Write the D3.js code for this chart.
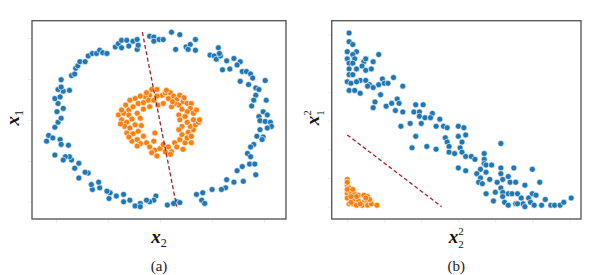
<!DOCTYPE html>
<html><head><meta charset="utf-8">
<script src="https://cdn.jsdelivr.net/npm/d3@7"></script>
<style>body{margin:0;background:#fff}svg{display:block}</style>
</head><body>
<script>
// ---- Panel (a): original space (x2, x1) ----
const blueA = [[-1.09,-0.26],[-1.07,-0.19],[-1.01,-0.09],[-1.03,-0.22],[-0.96,-0.24],[-0.95,-0.30],[-0.88,-0.31],[-0.98,-0.03],[-0.95,0.02],[-0.99,0.10],[-0.93,0.14],[-0.98,0.20],[-1.01,0.26],[-0.96,0.28],[-0.93,0.35],[-0.87,0.36],[-0.98,0.37],[-0.95,0.40],[-0.95,0.49],[-0.85,0.54],[-0.82,0.56],[-0.81,0.63],[-0.79,0.66],[-0.77,0.71],[-0.72,0.71],[-0.69,0.78],[-0.65,0.81],[-0.61,0.81],[-0.58,0.85],[-0.55,0.82],[-0.51,0.81],[-0.43,0.89],[-0.40,0.93],[-0.37,0.97],[-0.32,0.97],[-0.26,0.96],[-0.22,0.98],[-0.37,0.88],[-0.30,0.90],[-0.22,0.86],[-0.21,0.91],
[-0.10,1.02],[-0.06,1.01],[-0.01,0.98],[0.03,0.98],[0.11,1.07],[0.19,1.04],[-0.06,0.96],[0.15,0.86],[0.25,0.89],[0.29,0.92],[0.34,0.98],[0.27,0.86],[0.34,0.85],[0.56,0.88],[0.48,0.79],[0.52,0.78],[0.54,0.74],[0.58,0.78],[0.57,0.81],[0.64,0.72],[0.60,0.61],[0.67,0.62],[0.71,0.75],[0.77,0.71],[0.74,0.67],[0.79,0.59],[0.83,0.59],[0.87,0.56],[0.77,0.47],[0.85,0.43],[0.89,0.51],[1.01,0.48],[0.92,0.39],[0.95,0.37],[0.92,0.30],[0.90,0.24],[1.02,0.24],[0.88,0.17],[0.99,0.10],[1.03,0.06],[0.95,0.04],[0.96,-0.01],[1.01,-0.02],[1.06,-0.03],[1.07,-0.08],[1.03,-0.10],[0.96,-0.12],[0.93,-0.20],[0.99,-0.21],[0.90,-0.30],[0.87,-0.33],[0.98,-0.24],[0.84,-0.41],[0.87,-0.45],[0.86,-0.54],[0.91,-0.54],[0.79,-0.57],[0.92,-0.67],[0.74,-0.62],[0.80,-0.75],[0.71,-0.76],[0.64,-0.73],[0.63,-0.83],[0.59,-0.85],[0.50,-0.85],[0.41,-0.89],[0.35,-0.91],[0.40,-0.98],[0.43,-1.02],
[0.16,-1.00],[0.19,-1.01],[0.13,-1.02],[0.07,-1.04],[-0.04,-0.93],[-0.06,-0.98],[-0.10,-1.00],[-0.13,-0.98],[-0.19,-1.02],[-0.24,-1.05],[-0.19,-1.06],[-0.29,-0.98],[-0.35,-1.00],[-0.35,-0.91],[-0.42,-0.93],[-0.49,-0.96],[-0.48,-0.89],[-0.51,-0.87],[-0.58,-0.83],[-0.65,-0.85],[-0.66,-0.79],[-0.59,-0.76],[-0.69,-0.65],[-0.72,-0.64],[-0.78,-0.71],[-0.78,-0.53],[-0.82,-0.59],[-0.85,-0.49],[-0.87,-0.45],[-0.91,-0.45],[-0.93,-0.49],[-1.01,-0.43]];

const orangeA = [[-0.03,0.37],[0.02,0.30],[0.05,0.33],[0.10,0.33],[0.13,0.29],[0.08,0.26],[0.16,0.25],[0.19,0.30],[0.22,0.22],[0.18,0.18],[0.26,0.20],[0.30,0.20],[0.29,0.14],[0.32,0.08],[0.26,0.10],[0.21,0.13],[0.14,0.20],[-0.10,0.30],[-0.14,0.28],[-0.19,0.29],[-0.24,0.26],[-0.29,0.24],[-0.33,0.18],[-0.30,0.12],[-0.26,0.16],[-0.21,0.20],[-0.16,0.21],[-0.11,0.24],[-0.06,0.24],[-0.03,0.29],[-0.08,0.37],[-0.40,0.06],[-0.35,0.08],[-0.30,0.06],[-0.37,0.00],[-0.32,-0.03],[-0.27,0.01],[-0.22,0.08],[-0.19,0.02],[-0.34,-0.08],[-0.29,-0.10],[-0.24,-0.06],[-0.18,-0.07],[-0.32,-0.16],[-0.26,-0.17],[-0.21,-0.14],[-0.27,-0.26],[-0.22,-0.24],[-0.16,-0.20],[-0.19,-0.29],[-0.13,-0.28],[-0.10,-0.33],[-0.06,-0.26],[-0.05,-0.37],[0.00,-0.35],[0.03,-0.30],[-0.03,-0.44],[-0.05,-0.16],[0.05,-0.39],[0.08,-0.33],[0.11,-0.39],[0.14,-0.28],[0.19,-0.24],[0.16,-0.33],[0.24,-0.28],[0.26,-0.22],[0.21,-0.18],[0.27,-0.15],[0.32,-0.12],[0.29,-0.08],[0.34,-0.06],[0.37,-0.03],[0.38,0.00],[0.32,0.00],[0.26,-0.03],[0.21,-0.08],[0.18,-0.12],[0.24,0.04],[0.30,-0.28],[0.18,0.06],[0.19,0.00],[0.03,0.20],[-0.02,0.18],[0.11,0.16],[-0.10,0.16],[-0.16,0.13],[0.06,0.36],[-0.13,0.33],[0.23,0.27],[-0.37,0.12],[-0.38,-0.05],[-0.30,-0.21],[-0.22,-0.32],[0.10,-0.42],[0.30,-0.20],[0.35,0.12],[0.12,0.22],[-0.08,-0.40],[0.22,-0.36]];

const boundaryA = [[-0.17,1.07],[0.16,-1.06]];

// ---- Panel (b): squared feature space (x2^2, x1^2) ----
const blueB = [[0.01,1.21],[0.01,1.15],[0.03,1.13],[0.00,1.08],[0.05,1.08],[0.03,1.06],[0.00,1.03],[0.04,1.03],[0.01,1.00],[0.03,1.00],[0.09,1.01],[0.10,1.03],[0.14,1.01],[0.17,1.06],[0.08,0.98],[0.01,0.96],[0.05,0.96],[0.10,0.95],[0.13,0.96],[0.01,0.92],[0.03,0.92],[0.07,0.88],[0.10,0.88],[0.00,0.87],[0.02,0.86],[0.05,0.87],[0.19,0.89],[0.25,0.90],[0.12,0.85],[0.17,0.85],[0.20,0.86],[0.22,0.86],[0.01,0.81],[0.04,0.81],[0.07,0.79],[0.11,0.84],[0.14,0.83],[0.18,0.78],[0.15,0.73],[0.14,0.69],[0.21,0.70],[0.24,0.72],[0.27,0.75],[0.28,0.72],[0.30,0.84],[0.26,0.67],[0.30,0.66],[0.29,0.56],[0.34,0.58],[0.36,0.66],[0.37,0.71],[0.39,0.66],[0.41,0.71],[0.40,0.58],[0.39,0.63],[0.42,0.62],[0.46,0.65],[0.45,0.62],[0.50,0.61],[0.48,0.56],[0.52,0.56],[0.54,0.55],[0.37,0.49],[0.35,0.41],[0.43,0.42],[0.48,0.40],[0.53,0.48],[0.54,0.45],[0.55,0.42],[0.55,0.38],[0.58,0.37],[0.60,0.56],[0.63,0.55],[0.60,0.49],[0.64,0.50],[0.62,0.45],[0.61,0.41],[0.62,0.38],[0.64,0.35],[0.67,0.35],[0.69,0.33],[0.74,0.37],[0.74,0.33],[0.74,0.30],[0.75,0.29],[0.72,0.26],[0.75,0.24],[0.78,0.29],[0.83,0.44],[0.83,0.27],[0.83,0.23],[0.84,0.19],[0.87,0.21],[0.90,0.27],[0.88,0.17],[0.91,0.17],[0.60,0.27],[0.64,0.25],[0.70,0.23],[0.72,0.20],[0.71,0.17],[0.73,0.16],[0.75,0.09],[0.77,0.19],[0.79,0.04],[0.80,0.10],[0.81,0.17],[0.83,0.13],[0.84,0.10],[0.84,0.07],[0.87,0.09],[0.89,0.09],[0.85,0.03],[0.87,0.01],[0.91,0.02],[0.92,0.09],[0.96,0.15],[1.00,0.26],[1.04,0.17],[0.94,0.06],[0.95,0.02],[0.98,0.06],[0.99,0.03],[1.00,0.09],[1.01,0.01],[1.02,0.08],[1.05,0.01],[1.07,0.05],[1.10,0.01],[1.12,0.01],[1.15,0.01],[1.17,0.03],[1.21,0.06],[0.96,0.00],[0.92,0.02]];

const orangeB = [[0.00,0.19],[0.00,0.15],[0.01,0.13],[0.00,0.09],[0.02,0.10],[0.04,0.09],[0.06,0.08],[0.09,0.08],[0.11,0.07],[0.01,0.06],[0.04,0.05],[0.06,0.04],[0.09,0.03],[0.11,0.03],[0.01,0.02],[0.03,0.02],[0.05,0.01],[0.08,0.01],[0.11,0.01],[0.13,0.02],[0.16,0.01],[0.00,0.06],[0.00,0.12],[0.12,0.05],[0.10,0.06],[0.02,0.03],[0.05,0.07],[0.07,0.02],[0.00,0.17],[0.03,0.12],[0.02,0.07]];

const boundaryB = [[0.00,0.50],[0.51,0.00]];

const ticksAx = [-1,-0.5,0,0.5,1], ticksAy = [-1,-0.5,0,0.5,1];
const ticksBx = [0,0.2,0.4,0.6,0.8,1.0,1.2], ticksBy = [0,0.2,0.4,0.6,0.8,1.0,1.2];
const captions = ["(a)","(b)"];

const W = 593, H = 275;
const svg = d3.select("body").append("svg").attr("width",W).attr("height",H);

const BLUE = "#1f77b4", ORANGE = "#ff7f0e", LINE = "#a8202f";
const SERIF = "'Liberation Serif', 'DejaVu Serif', serif";

function panel(cfg){
  const x = d3.scaleLinear().domain(cfg.xd).range([cfg.left, cfg.right]);
  const y = d3.scaleLinear().domain(cfg.yd).range([cfg.bottom, cfg.top]);
  const g = svg.append("g");
  g.append("g").attr("transform",`translate(0,${cfg.bottom})`)
    .call(d3.axisBottom(x).tickValues(cfg.tx).tickFormat("").tickSize(4))
    .call(a=>{a.select(".domain").remove();a.selectAll("line").attr("stroke","#ececec");});
  g.append("g").attr("transform",`translate(${cfg.left},0)`)
    .call(d3.axisLeft(y).tickValues(cfg.ty).tickFormat("").tickSize(4))
    .call(a=>{a.select(".domain").remove();a.selectAll("line").attr("stroke","#ececec");});
  const dots = (data,col)=> g.append("g").selectAll("circle").data(data).join("circle")
    .attr("cx",d=>x(d[0])).attr("cy",d=>y(d[1])).attr("r",3.0)
    .attr("fill",col).attr("stroke","#fff").attr("stroke-width",0.6);
  dots(cfg.blue,BLUE); dots(cfg.orange,ORANGE);
  g.append("path").datum(cfg.line)
    .attr("d",d3.line().x(d=>x(d[0])).y(d=>y(d[1])))
    .attr("stroke",LINE).attr("stroke-width",1.3).attr("stroke-dasharray","4,2.5").attr("fill","none");
  g.append("rect").attr("x",cfg.left).attr("y",cfg.top)
    .attr("width",cfg.right-cfg.left).attr("height",cfg.bottom-cfg.top)
    .attr("fill","none").attr("stroke","#5c5c5c").attr("stroke-width",1.4);
  const cx = (cfg.left+cfg.right)/2;
  const xl = g.append("text").attr("x",cx).attr("y",243).attr("text-anchor","middle")
    .attr("font-family",SERIF).attr("font-style","italic").attr("font-weight","bold").attr("font-size",19).attr("fill","#111");
  xl.append("tspan").text("x");
  if(cfg.sq){
    xl.append("tspan").attr("font-size",11).attr("font-weight","normal").attr("font-style","normal").attr("dy",-8).text("2");
    xl.append("tspan").attr("font-size",11).attr("font-weight","normal").attr("font-style","normal").attr("dx",-5.5).attr("dy",13).text("2");
  } else {
    xl.append("tspan").attr("font-size",12).attr("font-weight","normal").attr("font-style","normal").attr("dy",4).text("2");
  }
  const yl = g.append("text").attr("transform",`translate(${cfg.left-13},${(cfg.top+cfg.bottom)/2-2}) rotate(-90)`)
    .attr("text-anchor","middle")
    .attr("font-family",SERIF).attr("font-style","italic").attr("font-weight","bold").attr("font-size",19).attr("fill","#111");
  yl.append("tspan").text("x");
  if(cfg.sq){
    yl.append("tspan").attr("font-size",11).attr("font-weight","normal").attr("font-style","normal").attr("dy",-8).text("2");
    yl.append("tspan").attr("font-size",11).attr("font-weight","normal").attr("font-style","normal").attr("dx",-5.5).attr("dy",13).text("1");
  } else {
    yl.append("tspan").attr("font-size",12).attr("font-weight","normal").attr("font-style","normal").attr("dy",4).text("1");
  }
  g.append("text").attr("x",cx).attr("y",271).attr("text-anchor","middle")
    .attr("font-family",SERIF).attr("font-size",15).attr("fill","#222").text(cfg.cap);
}

panel({left:32,right:286,top:20.7,bottom:219,xd:[-1.23,1.21],yd:[-1.21,1.21],
  tx:ticksAx,ty:ticksAy,blue:blueA,orange:orangeA,line:boundaryA,sq:false,cap:captions[0]});
panel({left:331.7,right:581,top:20.7,bottom:219,xd:[-0.084,1.263],yd:[-0.086,1.296],
  tx:ticksBx,ty:ticksBy,blue:blueB,orange:orangeB,line:boundaryB,sq:true,cap:captions[1]});
</script>
</body></html>
